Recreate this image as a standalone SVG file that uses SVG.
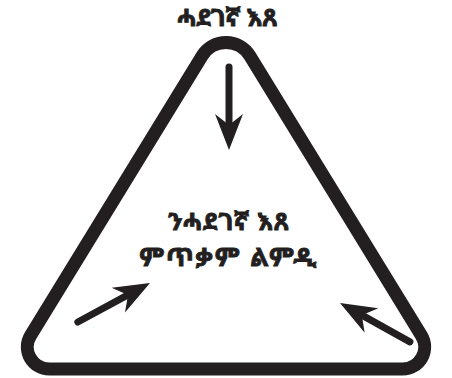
<svg xmlns="http://www.w3.org/2000/svg" width="452" height="378" viewBox="0 0 452 378">
<style>
.tri{fill:none;stroke:#231f20;stroke-width:13}
.shaft{stroke:#231f20;stroke-width:7;stroke-linecap:round}
.head{fill:#231f20}
.t{font-family:"Noto Sans Ethiopic","Abyssinica SIL","Noto Serif Ethiopic","Noto Sans",sans-serif;font-weight:bold;fill:#231f20;stroke:#231f20;stroke-width:0.9;text-anchor:middle}
</style>
<defs>
<g id="arrowhead"><path class="head" d="M0,0 L-36,-14 L-25,0 L-36,14 Z"/></g>
</defs>
<rect width="452" height="378" fill="#fff"/>
<g id="triangle">
<path class="tri" d="M202.1 55.9 A28 28 0 0 1 249.9 55.9 L421.4 335.5 A22 22 0 0 1 402.7 369 L49.3 369 A22 22 0 0 1 30.6 335.5 Z"/>
</g>
<g id="label-top"><text class="t" x="227" y="26" font-size="24">ሓደገኛ እጸ</text></g>
<g id="label-center">
<text class="t" x="229" y="230" font-size="24" letter-spacing="1">ንሓደገኛ እጸ</text>
<text class="t" x="229" y="266" font-size="25" letter-spacing="2">ምጥቃም ልምዲ</text>
</g>
<g id="connectors">
<g transform="translate(229,150) rotate(90)"><line class="shaft" x1="-83" y1="0" x2="-24" y2="0"/><use href="#arrowhead"/></g>
<g transform="translate(150,283) rotate(-28.4)"><line class="shaft" x1="-82" y1="0" x2="-24" y2="0"/><use href="#arrowhead"/></g>
<g transform="translate(340,303) rotate(209.1)"><line class="shaft" x1="-80" y1="0" x2="-24" y2="0"/><use href="#arrowhead"/></g>
</g>
</svg>
